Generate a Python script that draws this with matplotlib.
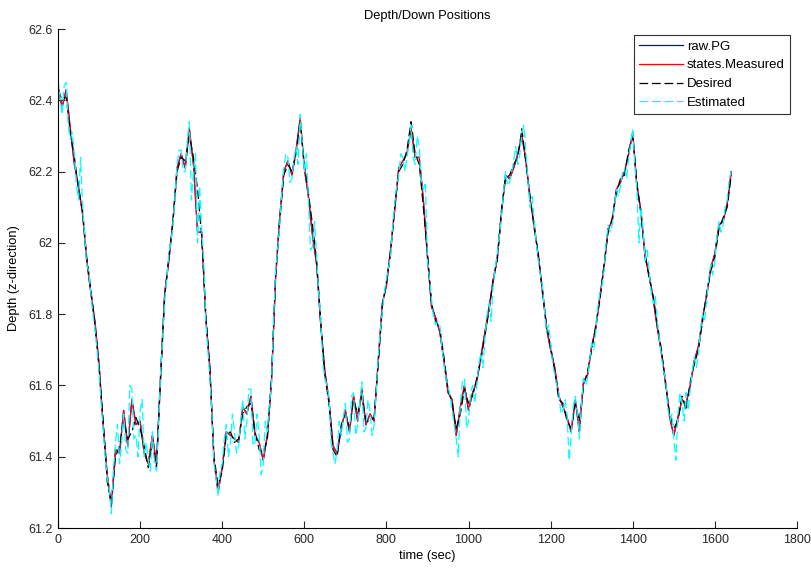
import numpy as np
import matplotlib.pyplot as plt

plt.rcParams['font.family'] = ['Liberation Sans', 'DejaVu Sans']

# depth readings every 10 s
desired = [
    62.43, 62.40, 62.41, 62.31, 62.24, 62.15, 62.09, 61.96, 61.87, 61.77,
    61.65, 61.50, 61.33, 61.27, 61.40, 61.43, 61.50, 61.45, 61.47, 61.51,
    61.48, 61.43, 61.37, 61.44, 61.37, 61.62, 61.85, 61.96, 62.06, 62.20,
    62.24, 62.23, 62.30, 62.24, 62.15, 62.02, 61.80, 61.64, 61.40, 61.32,
    61.36, 61.46, 61.47, 61.44, 61.45, 61.52, 61.54, 61.55, 61.47, 61.42,
    61.41, 61.45, 61.62, 61.91, 62.06, 62.19, 62.22, 62.20, 62.25, 62.34,
    62.22, 62.14, 62.05, 61.95, 61.78, 61.63, 61.55, 61.42, 61.40, 61.49,
    61.52, 61.48, 61.56, 61.52, 61.57, 61.50, 61.50, 61.51, 61.66, 61.82,
    61.89, 61.97, 62.10, 62.20, 62.22, 62.26, 62.34, 62.25, 62.22, 62.10,
    61.97, 61.83, 61.78, 61.76, 61.68, 61.59, 61.55, 61.48, 61.52, 61.59,
    61.55, 61.57, 61.62, 61.67, 61.74, 61.81, 61.90, 61.95, 62.09, 62.18,
    62.19, 62.22, 62.24, 62.32, 62.22, 62.13, 62.04, 61.97, 61.86, 61.77,
    61.71, 61.64, 61.56, 61.55, 61.50, 61.48, 61.55, 61.50, 61.60, 61.64,
    61.70, 61.77, 61.84, 61.94, 62.03, 62.07, 62.14, 62.18, 62.19, 62.26,
    62.30, 62.17, 62.08, 61.97, 61.90, 61.85, 61.77, 61.70, 61.60, 61.52,
    61.48, 61.50, 61.57, 61.53, 61.61, 61.66, 61.70, 61.78, 61.86, 61.92,
    61.96, 62.04, 62.07, 62.10, 62.19,
]

measured = [
    62.44, 62.38, 62.43, 62.32, 62.22, 62.16, 62.08, 61.95, 61.86, 61.78,
    61.66, 61.49, 61.35, 61.26, 61.42, 61.41, 61.53, 61.43, 61.56, 61.49,
    61.50, 61.41, 61.38, 61.46, 61.38, 61.63, 61.86, 61.95, 62.06, 62.21,
    62.25, 62.21, 62.32, 62.22, 62.03, 62.03, 61.79, 61.65, 61.39, 61.30,
    61.37, 61.47, 61.46, 61.45, 61.44, 61.54, 61.52, 61.57, 61.46, 61.44,
    61.39, 61.46, 61.61, 61.90, 62.07, 62.20, 62.23, 62.19, 62.26, 62.35,
    62.21, 62.13, 62.02, 61.94, 61.77, 61.64, 61.56, 61.43, 61.41, 61.48,
    61.53, 61.47, 61.57, 61.50, 61.59, 61.49, 61.52, 61.50, 61.67, 61.83,
    61.88, 61.98, 62.09, 62.21, 62.23, 62.25, 62.32, 62.24, 62.24, 62.12,
    61.96, 61.82, 61.79, 61.75, 61.67, 61.58, 61.56, 61.46, 61.54, 61.60,
    61.53, 61.58, 61.61, 61.68, 61.75, 61.82, 61.89, 61.96, 62.08, 62.19,
    62.18, 62.21, 62.25, 62.30, 62.23, 62.12, 62.05, 61.96, 61.87, 61.76,
    61.70, 61.65, 61.57, 61.54, 61.51, 61.47, 61.56, 61.47, 61.61, 61.63,
    61.71, 61.76, 61.85, 61.93, 62.04, 62.06, 62.15, 62.17, 62.20, 62.25,
    62.31, 62.16, 62.09, 61.96, 61.91, 61.84, 61.76, 61.69, 61.61, 61.51,
    61.46, 61.51, 61.56, 61.55, 61.60, 61.67, 61.71, 61.79, 61.85, 61.93,
    61.97, 62.05, 62.06, 62.11, 62.20,
]

# estimate is logged every 5 s
estimated = [
    62.46, 62.41, 62.36, 62.44, 62.45, 62.33, 62.29, 62.31, 62.25, 62.16,
    62.12, 62.24, 62.10, 62.02, 61.94, 61.92, 61.86, 61.80, 61.76, 61.70,
    61.64, 61.55, 61.48, 61.40, 61.34, 61.31, 61.24, 61.36, 61.44, 61.49,
    61.38, 61.44, 61.52, 61.42, 61.41, 61.60, 61.59, 61.45, 61.46, 61.40,
    61.53, 61.56, 61.40, 61.44, 61.39, 61.36, 61.47, 61.38, 61.36, 61.48,
    61.64, 61.73, 61.84, 61.90, 61.97, 62.00, 62.05, 62.13, 62.22, 62.26,
    62.26, 62.20, 62.20, 62.29, 62.34, 62.12, 62.20, 62.25, 62.00, 62.16,
    62.04, 61.95, 61.78, 61.70, 61.62, 61.52, 61.38, 61.34, 61.29, 61.36,
    61.38, 61.45, 61.49, 61.40, 61.44, 61.52, 61.47, 61.41, 61.43, 61.50,
    61.56, 61.45, 61.50, 61.59, 61.59, 61.43, 61.44, 61.52, 61.46, 61.35,
    61.38, 61.50, 61.47, 61.55, 61.60, 61.78, 61.92, 61.98, 62.05, 62.14,
    62.21, 62.25, 62.24, 62.17, 62.18, 62.24, 62.27, 62.22, 62.36, 62.28,
    62.20, 62.25, 62.12, 61.98, 61.99, 62.06, 61.96, 61.86, 61.79, 61.66,
    61.62, 61.60, 61.57, 61.44, 61.41, 61.38, 61.42, 61.50, 61.46, 61.51,
    61.55, 61.44, 61.45, 61.57, 61.58, 61.46, 61.49, 61.55, 61.61, 61.47,
    61.48, 61.56, 61.53, 61.46, 61.49, 61.58, 61.68, 61.75, 61.81, 61.86,
    61.90, 61.93, 61.96, 62.04, 62.11, 62.16, 62.19, 62.25, 62.24, 62.20,
    62.24, 62.28, 62.33, 62.24, 62.22, 62.30, 62.27, 62.17, 62.15, 62.17,
    61.95, 61.90, 61.84, 61.79, 61.77, 61.78, 61.77, 61.71, 61.66, 61.62,
    61.60, 61.57, 61.53, 61.49, 61.45, 61.40, 61.55, 61.61, 61.62, 61.48,
    61.50, 61.58, 61.60, 61.55, 61.60, 61.66, 61.69, 61.65, 61.73, 61.80,
    61.83, 61.78, 61.88, 61.93, 61.97, 62.02, 62.07, 62.14, 62.20, 62.16,
    62.17, 62.20, 62.23, 62.27, 62.22, 62.25, 62.31, 62.33, 62.25, 62.17,
    62.10, 62.13, 62.06, 62.00, 61.95, 61.91, 61.88, 61.81, 61.75, 61.77,
    61.72, 61.66, 61.63, 61.60, 61.58, 61.52, 61.53, 61.56, 61.52, 61.39,
    61.46, 61.54, 61.57, 61.52, 61.45, 61.55, 61.62, 61.60, 61.62, 61.67,
    61.72, 61.70, 61.75, 61.82, 61.86, 61.88, 61.92, 62.00, 62.05, 62.03,
    62.05, 62.10, 62.15, 62.13, 62.16, 62.20, 62.21, 62.18, 62.24, 62.28,
    62.32, 62.22, 62.15, 62.00, 62.10, 62.04, 61.95, 61.98, 61.92, 61.86,
    61.83, 61.85, 61.78, 61.73, 61.68, 61.64, 61.62, 61.54, 61.50, 61.52,
    61.45, 61.39, 61.52, 61.58, 61.55, 61.50, 61.58, 61.53, 61.59, 61.64,
    61.68, 61.65, 61.69, 61.76, 61.80, 61.78, 61.84, 61.90, 61.94, 61.91,
    61.95, 62.02, 62.06, 62.03, 62.05, 62.10, 62.12, 62.18, 62.20,
]

t_meas = np.arange(len(measured)) * 10
t_des = np.arange(len(desired)) * 10
t_est = np.arange(len(estimated)) * 5

fig = plt.figure(figsize=(8.12, 5.69), dpi=100)
ax = fig.add_axes([0.0714, 0.072, 0.9101, 0.877])

ax.plot(t_meas, measured, color='blue', lw=0.9, label='raw.PG')
ax.plot(t_meas, measured, color='red', lw=0.9, label='states.Measured')
ax.plot(t_des, desired, color='black', lw=0.9, dashes=(7, 3), label='Desired')
ax.plot(t_est, estimated, color='cyan', lw=0.9, dashes=(7, 3), label='Estimated')

ax.set_xlim(0, 1800)
ax.set_ylim(61.2, 62.6)
ax.set_xticks(np.arange(0, 1801, 200))
ax.set_yticks([61.2, 61.4, 61.6, 61.8, 62.0, 62.2, 62.4, 62.6])
ax.set_yticklabels(['61.2', '61.4', '61.6', '61.8', '62', '62.2', '62.4', '62.6'])
ax.tick_params(direction='in', length=5, labelsize=9, colors='#262626', pad=4)
ax.spines['top'].set_visible(False)
ax.spines['right'].set_visible(False)

ax.set_title('Depth/Down Positions', fontsize=9.3, pad=7)
ax.set_xlabel('time (sec)', fontsize=9.3, labelpad=3)
ax.set_ylabel('Depth (z-direction)', fontsize=9.3, labelpad=6)

leg = ax.legend(loc='upper right', bbox_to_anchor=(0.9905, 0.988), borderaxespad=0,
                fontsize=9.5, fancybox=False, framealpha=1, edgecolor='#333333',
                handlelength=3.3, handletextpad=0.3, borderpad=0.4,
                labelspacing=0.5)
leg.get_frame().set_linewidth(0.8)

fig.savefig('out.png', dpi=100)
